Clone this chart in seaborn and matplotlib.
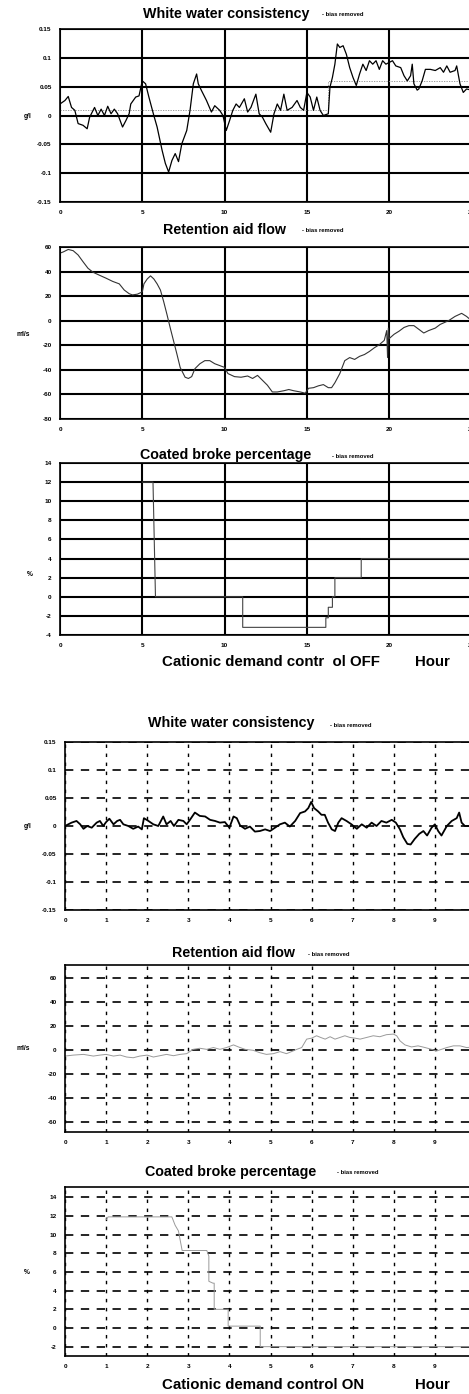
import numpy as np
import pandas as pd
import matplotlib
matplotlib.use("Agg")
import matplotlib.pyplot as plt
import seaborn as sns

# ---------------- DATA ----------------
# Panel 1: White water consistency, control OFF (hours 0-25)
ww_off_x = [0, 0.3, 0.5, 0.7, 0.9, 1.1, 1.4, 1.65, 1.8, 2.1, 2.3, 2.5, 2.7, 2.9, 3.1, 3.3, 3.5, 3.8, 4.0,
            4.2, 4.3, 4.6, 4.8, 5.0, 5.2, 5.4, 5.7, 5.9, 6.2, 6.4, 6.6, 6.8, 7.0, 7.2, 7.4, 7.7, 7.9, 8.1,
            8.3, 8.4, 8.6, 8.9, 9.2, 9.4, 9.7, 9.9, 10.1, 10.3, 10.5, 10.7, 10.9, 11.2, 11.4, 11.6, 11.9,
            12.1, 12.3, 12.5, 12.8, 13.0, 13.2, 13.4, 13.6, 13.8, 14.1, 14.4, 14.6, 14.8, 15.0, 15.2, 15.4,
            15.6, 15.8, 16.0, 16.3, 16.4, 16.55, 16.7, 16.85, 17.0, 17.2, 17.4, 17.6, 17.8, 18.0, 18.2,
            18.4, 18.6, 18.8, 19.0, 19.2, 19.4, 19.6, 19.8, 20.0, 20.2, 20.4, 20.7, 20.9, 21.1, 21.3, 21.4,
            21.5, 21.7, 21.8, 22.0, 22.2, 22.5, 22.8, 23.1, 23.3, 23.5, 23.7, 24.0, 24.1, 24.3, 24.5, 24.7, 25.0]
ww_off_y = [0.020, 0.026, 0.033, 0.014, 0.009, -0.014, -0.017, -0.023, -0.003, 0.014, 0.000, 0.011, 0.000,
            0.016, 0.003, 0.011, 0.003, -0.020, -0.009, 0.003, 0.020, 0.032, 0.034, 0.060, 0.055, 0.032,
            0.000, -0.020, -0.060, -0.083, -0.098, -0.078, -0.066, -0.080, -0.049, -0.026, 0.009, 0.055,
            0.072, 0.055, 0.043, 0.026, 0.006, 0.017, 0.009, 0.000, -0.026, -0.009, 0.009, 0.020, 0.014,
            0.029, 0.006, 0.014, 0.037, 0.003, -0.003, -0.014, -0.029, 0.003, 0.020, 0.009, 0.037, 0.009,
            0.014, 0.026, 0.014, 0.009, 0.040, 0.032, 0.009, 0.032, 0.009, 0.000, 0.003, 0.049, 0.066,
            0.089, 0.124, 0.118, 0.121, 0.106, 0.083, 0.066, 0.052, 0.072, 0.089, 0.078, 0.095, 0.089,
            0.095, 0.080, 0.095, 0.089, 0.092, 0.095, 0.086, 0.083, 0.069, 0.060, 0.069, 0.089, 0.055,
            0.044, 0.046, 0.060, 0.080, 0.080, 0.078, 0.083, 0.075, 0.086, 0.075, 0.078, 0.086, 0.055,
            0.040, 0.046, 0.044]
bias_off_x = [0, 16.3, 16.3, 25]
bias_off_y = [0.010, 0.010, 0.060, 0.060]

# Panel 2: Retention aid flow, control OFF
ra_off_x = [0, 0.2, 0.5, 0.8, 1.1, 1.4, 1.7, 2.0, 2.4, 2.8, 3.2, 3.6, 3.9, 4.2, 4.4, 4.7, 5.0, 5.1, 5.3,
            5.5, 5.7, 5.9, 6.1, 6.3, 6.5, 6.7, 6.9, 7.1, 7.3, 7.6, 7.8, 8.0, 8.2, 8.5, 8.8, 9.1, 9.4, 9.7,
            10.0, 10.2, 10.6, 11.0, 11.4, 11.7, 12.0, 12.3, 12.6, 12.9, 13.2, 13.6, 13.9, 14.2, 14.6, 14.9,
            15.1, 15.4, 15.7, 16.0, 16.3, 16.5, 16.7, 17.0, 17.3, 17.6, 17.9, 18.2, 18.5, 18.8, 19.1, 19.4,
            19.7, 19.85, 19.9, 19.95, 20.0, 20.3, 20.6, 20.9, 21.2, 21.5, 21.8, 22.1, 22.4, 22.8, 23.1,
            23.6, 24.0, 24.4, 24.7, 25.0]
ra_off_y = [55, 56, 58, 57, 53.5, 48, 42.7, 39.5, 37, 34.6, 32, 30, 25, 22, 21, 21.6, 23.5, 30, 34, 36.5,
            34, 30, 25, 15.5, 5, -6, -16.5, -27, -38, -46, -47, -45.5, -39, -35, -32.5, -32.5, -35,
            -36.5, -38, -43, -45.5, -46, -45, -47, -44.5, -48.5, -52.5, -58, -58, -57, -56, -57, -58,
            -59, -55, -54.5, -53, -52, -54.5, -54.5, -50.5, -43, -32.5, -30, -31.5, -29, -27.5, -25, -22,
            -19.5, -16, -8, -30, -6, -14.5, -11, -8.5, -5.5, -4, -4, -7, -10, -8, -6, -3, 0, 3.5, 6, 3.5, 0]

# Panel 3: Coated broke percentage, control OFF (step changes)
cb_off_x = [5.0, 5.65, 5.8, 11.1, 11.1, 16.15, 16.15, 16.3, 16.3, 16.55, 16.55, 16.7, 16.7, 18.3, 18.3, 25.0]
cb_off_y = [12, 12, 0, 0, -3.2, -3.2, -2.2, -2.2, -1.1, -1.1, 0, 0, 2, 2, 4, 4]

# Panel 4: White water consistency, control ON (hours 0-10)
ww_on_x = [0, 0.08, 0.16, 0.28, 0.37, 0.45, 0.54, 0.65, 0.77, 0.85, 0.93, 1.0, 1.08, 1.18, 1.27, 1.34,
           1.42, 1.54, 1.66, 1.78, 1.87, 1.92, 2.03, 2.15, 2.27, 2.39, 2.47, 2.57, 2.65, 2.76, 2.88, 2.96,
           3.04, 3.16, 3.28, 3.41, 3.53, 3.65, 3.77, 3.89, 4.0, 4.1, 4.18, 4.26, 4.38, 4.5, 4.62, 4.74,
           4.87, 4.99, 5.11, 5.23, 5.35, 5.47, 5.6, 5.72, 5.84, 5.92, 5.99, 6.06, 6.16, 6.24, 6.32, 6.4,
           6.49, 6.57, 6.65, 6.73, 6.85, 6.97, 7.1, 7.22, 7.34, 7.46, 7.58, 7.7, 7.82, 7.95, 8.05, 8.15,
           8.23, 8.33, 8.41, 8.51, 8.62, 8.72, 8.81, 8.92, 9.0, 9.08, 9.16, 9.29, 9.41, 9.53, 9.59, 9.65,
           9.73, 9.85, 10.0]
ww_on_y = [0.000, 0.003, 0.006, 0.009, 0.003, -0.005, 0.000, -0.003, 0.006, 0.009, 0.000, 0.007, 0.013,
           0.003, 0.009, 0.011, 0.003, 0.000, -0.005, -0.001, -0.006, 0.014, 0.009, 0.003, 0.000, 0.017,
           0.003, 0.009, 0.000, 0.011, 0.009, 0.003, 0.011, 0.024, 0.018, 0.017, 0.011, 0.009, 0.006,
           0.007, -0.003, 0.017, 0.014, 0.001, -0.005, -0.001, -0.010, -0.009, -0.006, -0.009, -0.003,
           0.003, 0.006, -0.001, 0.009, 0.023, 0.026, 0.032, 0.043, 0.032, 0.026, 0.020, 0.020, 0.006,
           -0.006, -0.009, 0.006, 0.014, 0.009, 0.003, -0.005, 0.003, -0.003, 0.006, 0.000, 0.009, 0.006,
           0.011, 0.006, -0.006, -0.020, -0.032, -0.033, -0.023, -0.014, -0.009, -0.017, -0.003, 0.003,
           -0.009, -0.017, 0.000, 0.009, 0.014, 0.024, 0.006, 0.000, 0.000, 0.002]

# Panel 5: Retention aid flow, control ON
ra_on_x = [0, 0.2, 0.45, 0.69, 0.85, 1.0, 1.18, 1.34, 1.5, 1.66, 1.82, 2.0, 2.15, 2.31, 2.47, 2.64, 2.8,
           2.96, 3.12, 3.28, 3.45, 3.61, 3.77, 3.93, 4.1, 4.22, 4.38, 4.58, 4.74, 4.9, 5.07, 5.23, 5.39,
           5.51, 5.64, 5.76, 5.88, 6.0, 6.12, 6.22, 6.33, 6.45, 6.57, 6.69, 6.81, 6.93, 7.06, 7.18, 7.34,
           7.5, 7.66, 7.82, 7.99, 8.07, 8.15, 8.27, 8.43, 8.59, 8.76, 8.92, 9.04, 9.16, 9.29, 9.45, 9.61,
           9.77, 10.0]
ra_on_y = [-4.8, -4, -3.4, -4.8, -4, -3.4, -4.8, -4, -5.6, -6.2, -4.8, -4, -5.6, -4.5, -3.4, -4.5, -3.4,
           -2.8, 0.8, 1.7, 0.8, 2.3, 0.8, 2.3, 4.5, 2.8, 0.8, 0, -2, -3.4, -2.8, -1.1, -2.8, -1.1, 0.8,
           2.3, 9.3, 10.1, 12.1, 10.7, 9.3, 11.3, 9.3, 10.7, 12.1, 10.7, 10.1, 9.3, 10.7, 12.1, 11.3, 13,
           13.5, 12.1, 7.9, 4.5, 2.8, 3.7, 2.3, 0.8, -0.6, 0.8, 2.3, 3.7, 3.7, 2.3, 2.8]

# Panel 6: Coated broke percentage, control ON
cb_on_x = [1.0, 1.05, 2.6, 2.68, 2.76, 2.85, 3.45, 3.5, 3.5, 3.6, 3.63, 3.63, 3.97, 3.97, 4.75, 4.75, 10.0]
cb_on_y = [11.6, 11.9, 11.9, 11.0, 10.4, 8.3, 8.3, 7.7, 5.0, 4.8, 4.8, 2.0, 2.0, 0.2, 0.2, -2.0, -2.0]

off_xticks = [0, 5, 10, 15, 20, 25]
on_xticks = list(range(0, 11))
ww_yticks = [-0.15, -0.1, -0.05, 0, 0.05, 0.1, 0.15]
ww_ylabels = ["-0.15", "-0.1", "-0.05", "0", "0.05", "0.1", "0.15"]
ra_off_yticks = [-80, -60, -40, -20, 0, 20, 40, 60]
ra_on_yticks = [-60, -40, -20, 0, 20, 40, 60]
cb_off_yticks = [-4, -2, 0, 2, 4, 6, 8, 10, 12, 14]
cb_on_yticks = [-2, 0, 2, 4, 6, 8, 10, 12, 14]

titles = ["White water consistency", "Retention aid flow", "Coated broke percentage"]
bias_text = "- bias removed"
units = ["g/l", "ml/s", "%"]

# ---------------- STYLE ----------------
sns.set_theme(style="white")
plt.rcParams["font.family"] = ["Liberation Sans", "DejaVu Sans"]
plt.rcParams["axes.edgecolor"] = "black"

W, H = 469, 1394
fig = plt.figure(figsize=(W / 100, H / 100), dpi=100)
fig.patch.set_facecolor("white")


def ax_px(left, right, top, bottom):
    return fig.add_axes([left / W, 1 - bottom / H, (right - left) / W, (bottom - top) / H])


def ftext(x, y, s, **kw):
    fig.text(x / W, 1 - y / H, s, **kw)


tick_kw = dict(fontsize=4.6, fontweight="bold", color="black")


def style_off(ax, xticks, yticks, ylabels=None):
    ax.set_xticks(xticks)
    ax.set_yticks(yticks)
    ax.set_xticklabels([str(t) for t in xticks], **tick_kw)
    ax.set_yticklabels(ylabels if ylabels else [str(t) for t in yticks], **tick_kw)
    ax.tick_params(length=0, pad=6)
    ax.grid(True, color="black", linewidth=1.5, linestyle="-")
    for s in ax.spines.values():
        s.set_linewidth(1.2)
        s.set_color("black")
    ax.set_xlabel("")
    ax.set_ylabel("")


def style_on(ax, xticks, yticks, ylabels=None):
    ax.set_xticks(xticks)
    ax.set_yticks(yticks)
    ax.set_xticklabels([str(t) for t in xticks], **tick_kw)
    ax.set_yticklabels(ylabels if ylabels else [str(t) for t in yticks], **tick_kw)
    ax.tick_params(length=0, pad=6)
    ax.grid(True, axis="y", color="black", linewidth=1.2, linestyle=(0, (5, 4.5)))
    ax.grid(True, axis="x", color="black", linewidth=1.0, linestyle=(0, (2.5, 4)))
    for s in ax.spines.values():
        s.set_linewidth(1.2)
        s.set_color("black")
    ax.set_xlabel("")
    ax.set_ylabel("")


title_kw = dict(fontsize=10.3, fontweight="bold", color="black", va="center", ha="left")
bias_kw = dict(fontsize=4.2, fontweight="bold", color="black", va="center", ha="left")
unit_kw = dict(fontsize=4.8, fontweight="bold", color="black", va="center", ha="center")

# ---------- Panel 1 ----------
ax1 = ax_px(60, 471.5, 29, 202)
sns.lineplot(x=bias_off_x, y=bias_off_y, ax=ax1, color="#8a8a8a", linewidth=0.6,
             linestyle=(0, (1.5, 1.5)), estimator=None, sort=False)
sns.lineplot(x=ww_off_x, y=ww_off_y, ax=ax1, color="black", linewidth=0.9, estimator=None, sort=False)
ax1.set_xlim(0, 25)
ax1.set_ylim(-0.15, 0.15)
style_off(ax1, off_xticks, ww_yticks, ww_ylabels)
ftext(143, 14, titles[0], **title_kw)
ftext(322, 15, bias_text, **bias_kw)
ftext(28, 117, units[0], **unit_kw)

# ---------- Panel 2 ----------
ax2 = ax_px(60, 471.5, 247, 419)
sns.lineplot(x=ra_off_x, y=ra_off_y, ax=ax2, color="#333333", linewidth=0.8, estimator=None, sort=False)
ax2.set_xlim(0, 25)
ax2.set_ylim(-80, 60)
style_off(ax2, off_xticks, ra_off_yticks)
ftext(163, 230, titles[1], **title_kw)
ftext(302, 231, bias_text, **bias_kw)
ftext(23, 335, units[1], **unit_kw)

# ---------- Panel 3 ----------
ax3 = ax_px(60, 471.5, 463, 635)
sns.lineplot(x=cb_off_x, y=cb_off_y, ax=ax3, color="#444444", linewidth=0.8, estimator=None, sort=False)
ax3.set_xlim(0, 25)
ax3.set_ylim(-4, 14)
style_off(ax3, off_xticks, cb_off_yticks)
ftext(140, 455, titles[2], **title_kw)
ftext(332, 456, bias_text, **bias_kw)
ftext(30, 575, units[2], **unit_kw)
cap_kw = dict(fontsize=10.8, fontweight="bold", color="black", va="center", ha="left")
ftext(162, 662, "Cationic demand contr  ol OFF", **cap_kw)
ftext(415, 662, "Hour", **cap_kw)

# ---------- Panel 4 ----------
ax4 = ax_px(65, 476, 742, 910)
sns.lineplot(x=ww_on_x, y=ww_on_y, ax=ax4, color="black", linewidth=1.3, estimator=None, sort=False)
ax4.set_xlim(0, 10)
ax4.set_ylim(-0.15, 0.15)
style_on(ax4, on_xticks, ww_yticks, ww_ylabels)
ftext(148, 723, titles[0], **title_kw)
ftext(330, 725, bias_text, **bias_kw)
ftext(28, 827, units[0], **unit_kw)

# ---------- Panel 5 ----------
ax5 = ax_px(65, 476, 965, 1132)
sns.lineplot(x=ra_on_x, y=ra_on_y, ax=ax5, color="#9a9a9a", linewidth=0.7, estimator=None, sort=False)
ax5.set_xlim(0, 10)
ax5.set_ylim(-68, 71)
style_on(ax5, on_xticks, ra_on_yticks)
ftext(172, 953, titles[1], **title_kw)
ftext(308, 955, bias_text, **bias_kw)
ftext(23, 1049, units[1], **unit_kw)

# ---------- Panel 6 ----------
ax6 = ax_px(65, 476, 1187, 1356)
sns.lineplot(x=cb_on_x, y=cb_on_y, ax=ax6, color="#9a9a9a", linewidth=0.7, estimator=None, sort=False)
ax6.set_xlim(0, 10)
ax6.set_ylim(-3, 15.1)
style_on(ax6, on_xticks, cb_on_yticks)
ftext(145, 1172, titles[2], **title_kw)
ftext(337, 1173, bias_text, **bias_kw)
ftext(27, 1273, units[2], **unit_kw)
ftext(162, 1385, "Cationic demand control ON", **cap_kw)
ftext(415, 1385, "Hour", **cap_kw)

fig.savefig("out.png", dpi=100, facecolor="white")
